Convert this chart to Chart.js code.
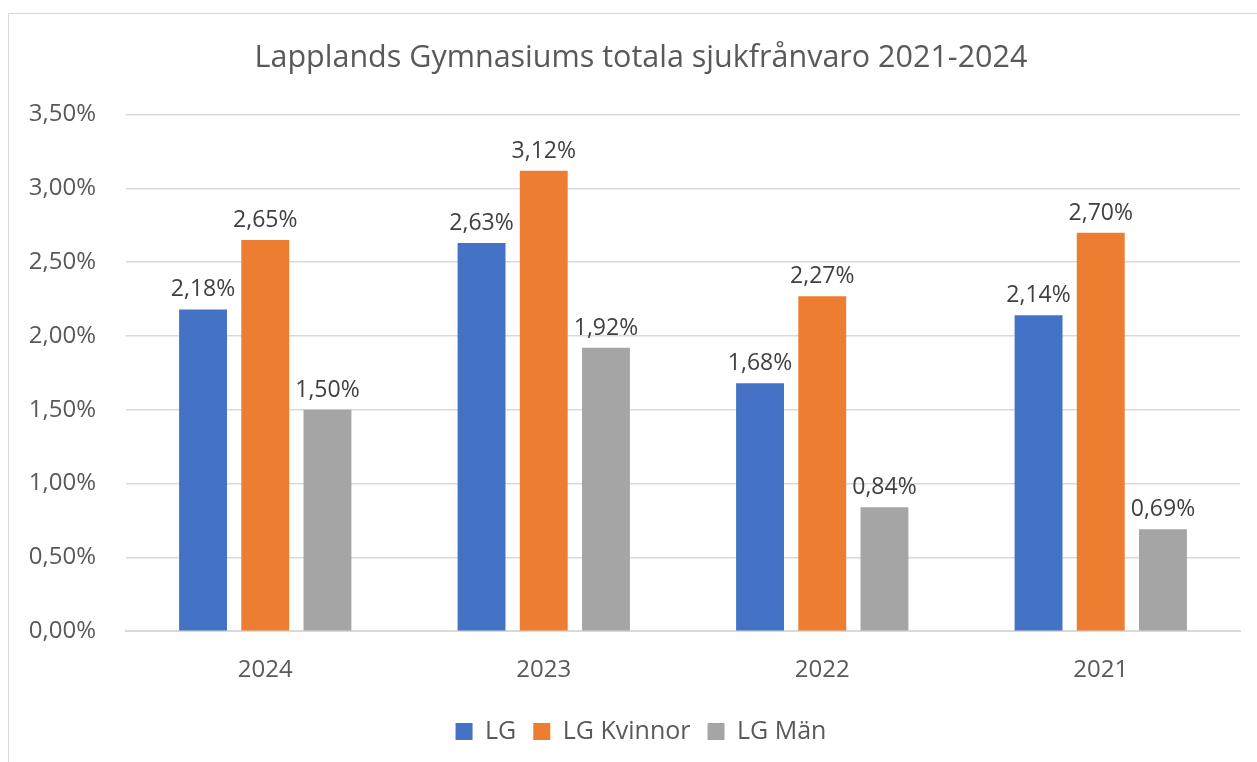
<!DOCTYPE html>
<html>
<head>
<meta charset="utf-8">
<script src="https://cdn.jsdelivr.net/npm/chart.js@4"></script>
<style>
  html, body { margin: 0; padding: 0; background: #fff; }
  #frame { position: absolute; left: 8px; top: 13px; width: 1260px; height: 760px; border: 1px solid #d9d9d9; box-sizing: border-box; }
  #wrap { position: absolute; left: 0; top: 0; width: 1257px; height: 762px; }
</style>
</head>
<body>
<div id="frame"></div>
<div id="wrap"><canvas id="c"></canvas></div>
<script>
// data
const categories = ['2024', '2023', '2022', '2021'];
const seriesNames = ['LG', 'LG Kvinnor', 'LG Män'];
const lgValues = [2.18, 2.63, 1.68, 2.14];
const kvinnorValues = [2.65, 3.12, 2.27, 2.70];
const manValues = [1.50, 1.92, 0.84, 0.69];
const colors = ['#4472C4', '#ED7D31', '#A5A5A5'];

const fmt = v => v.toFixed(2).replace('.', ',') + '%';
const FONT = "'Open Sans', 'Noto Sans', sans-serif";

//värdeetiketter ovanför staplarna
const labelPlugin = {
  id: 'barLabels',
  afterDatasetsDraw(chart) {
    const ctx = chart.ctx;
    ctx.save();
    ctx.font = '23px ' + FONT;
    ctx.fillStyle = '#404040';
    ctx.textAlign = 'center';
    ctx.textBaseline = 'bottom';
    chart.data.datasets.forEach((ds, i) => {
      chart.getDatasetMeta(i).data.forEach((bar, j) => {
        ctx.fillText(fmt(ds.data[j]), bar.x, bar.y - 8);
      });
    });
    ctx.restore();
  }
};

//låt y-axelns etiketter gå ut i vänstermarginalen utan att klippas
const axisEdgePlugin = {
  id: 'axisEdge',
  afterLayout(chart) {
    chart.scales.y.left = 0;
  }
};

const allSeries = [lgValues, kvinnorValues, manValues];

new Chart(document.getElementById('c').getContext('2d'), {
  type: 'bar',
  data: {
    labels: categories,
    datasets: allSeries.map((vals, i) => ({
      label: seriesNames[i],
      data: vals,
      backgroundColor: colors[i],
      borderWidth: 0
    }))
  },
  options: {
    responsive: true,
    maintainAspectRatio: false,
    animation: false,
    categoryPercentage: 0.67,
    barPercentage: 0.77,
    layout: { padding: { left: 42, right: 17, top: 20, bottom: 8 } },
    plugins: {
      title: {
        display: true,
        text: 'Lapplands Gymnasiums totala sjukfrånvaro 2021-2024',
        color: '#595959',
        font: { family: FONT, size: 30.5, weight: 'normal' },
        padding: { top: 20, bottom: 38 }
      },
      legend: {
        position: 'bottom',
        labels: {
          color: '#595959',
          font: { family: FONT, size: 25 },
          boxWidth: 17,
          boxHeight: 17,
          padding: 17
        }
      },
      tooltip: { enabled: false }
    },
    scales: {
      x: {
        grid: { display: false },
        border: { color: '#d9d9d9', width: 2 },
        ticks: { color: '#595959', font: { family: FONT, size: 24 }, padding: 17 }
      },
      y: {
        min: 0,
        max: 3.5,
        afterFit: scale => { scale.width = 84; },
        grid: { color: '#d9d9d9', lineWidth: 1.5, drawTicks: false },
        border: { display: false },
        ticks: {
          stepSize: 0.5,
          color: '#595959',
          font: { family: FONT, size: 24 },
          padding: 30,
          callback: v => fmt(v)
        }
      }
    }
  },
  plugins: [labelPlugin, axisEdgePlugin]
});
</script>
</body>
</html>
